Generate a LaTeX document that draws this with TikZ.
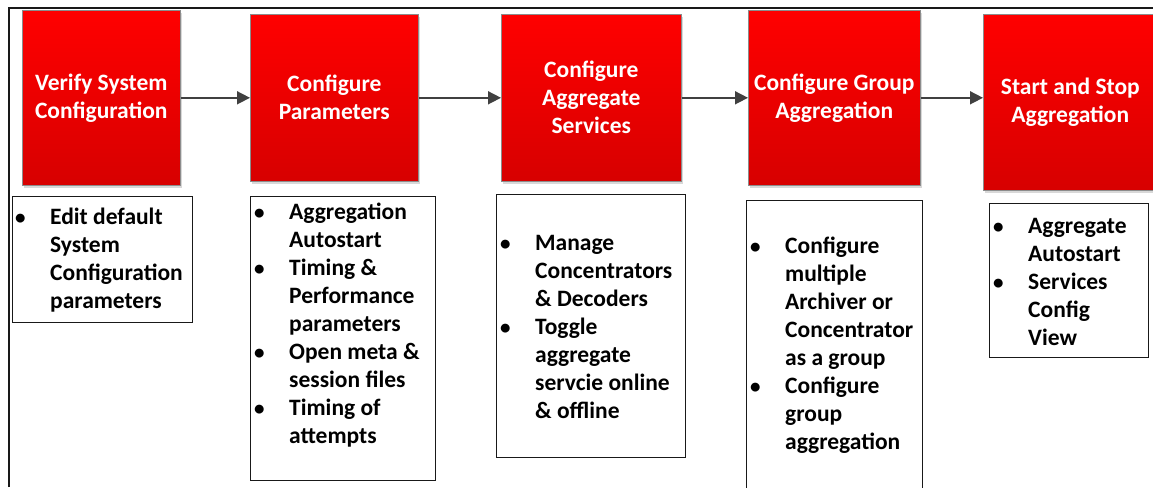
\documentclass[tikz,border=0pt]{standalone}
\usepackage{fontspec}
\setmainfont{Carlito}
\usetikzlibrary{arrows.meta,shadows}
\definecolor{redtop}{HTML}{FF0000}
\definecolor{redbot}{HTML}{D70000}
\definecolor{arrowgrey}{HTML}{404040}
\tikzset{
  redbox/.style={anchor=north west, inner sep=0pt, top color=redtop, bottom color=redbot,
    draw=black!45, line width=0.6pt, text=white, align=center,
    font=\fontsize{23.5}{28}\selectfont\bfseries,
    drop shadow={shadow xshift=2pt, shadow yshift=-3pt, fill=black!25, opacity=0.6}},
  listbox/.style={anchor=north west, inner sep=0pt, draw=black!90, line width=1.3pt, fill=white},
  listtext/.style={anchor=base west, inner sep=0pt, align=left,
    font=\fontsize{23.5}{28}\selectfont\bfseries},
  flow/.style={draw=arrowgrey, line width=1.6pt, -{Triangle[length=13pt,width=13pt]}},
  frameline/.style={draw=black!90, line width=1.8pt}
}
\newcommand{\bul}{\makebox[35pt][l]{\fontsize{21}{28}\selectfont\textbullet}}
\begin{document}
\begin{tikzpicture}[x=1pt,y=-1pt]
\useasboundingbox (0,0) rectangle (1153,487);
\fill[white] (0,0) rectangle (1153,487);
\coordinate (fa) at (9,487);
\coordinate (fb) at (9,8);
\coordinate (fc) at (1153,8);
\draw[frameline] (fa) -- (fb) -- (fc);

% red step boxes
\node[redbox, minimum width=158pt, minimum height=175pt] (r1) at (22,10) {Verify System\\Configuration};
\node[redbox, minimum width=168pt, minimum height=167pt] (r2) at (250,14) {Configure\\Parameters};
\node[redbox, minimum width=180pt, minimum height=167pt] (r3) at (501,14) {Configure\\Aggregate\\Services};
\node[redbox, minimum width=172pt, minimum height=175pt] (r4) at (748,10) {Configure Group\\Aggregation};
\node[redbox, minimum width=174pt, minimum height=176pt] (r5) at (983,14) {Start and Stop\\Aggregation};

% arrows
\draw[flow] (r1.east) -- (r1.east -| r2.west);
\draw[flow] (r2.east) -- (r2.east -| r3.west);
\draw[flow] (r3.east) -- (r3.east -| r4.west);
\draw[flow] (r4.east) -- (r4.east -| r5.west);

% list boxes
\node[listbox, minimum width=180pt, minimum height=126pt] (w1) at (12,196) {};
\node[listbox, minimum width=185pt, minimum height=284pt] (w2) at (250,196) {};
\node[listbox, minimum width=189pt, minimum height=263pt] (w3) at (496,194) {};
\node[listbox, minimum width=176pt, minimum height=295pt] (w4) at (746,200) {};
\node[listbox, minimum width=159pt, minimum height=154pt] (w5) at (989,203) {};

\node[listtext] (t1) at (15,224) {\begin{tabular}[t]{@{}l@{}l@{}}
\bul & Edit default\\ & System\\ & Configuration\\ & parameters\end{tabular}};
\node[listtext] (t2) at (254,219) {\begin{tabular}[t]{@{}l@{}l@{}}
\bul & Aggregation\\ & Autostart\\ \bul & Timing \&\\ & Performance\\ & parameters\\
\bul & Open meta \&\\ & session files\\ \bul & Timing of\\ & attempts\end{tabular}};
\node[listtext] (t3) at (500,250) {\begin{tabular}[t]{@{}l@{}l@{}}
\bul & Manage\\ & Concentrators\\ & \& Decoders\\ \bul & Toggle\\ & aggregate\\
& servcie online\\ & \& offline\end{tabular}};
\node[listtext] (t4) at (750,253) {\begin{tabular}[t]{@{}l@{}l@{}}
\bul & Configure\\ & multiple\\ & Archiver or\\ & Concentrator\\ & as a group\\
\bul & Configure\\ & group\\ & aggregation\end{tabular}};
\node[listtext] (t5) at (993,233) {\begin{tabular}[t]{@{}l@{}l@{}}
\bul & Aggregate\\ & Autostart\\ \bul & Services\\ & Config\\ & View\end{tabular}};
\end{tikzpicture}
\end{document}
